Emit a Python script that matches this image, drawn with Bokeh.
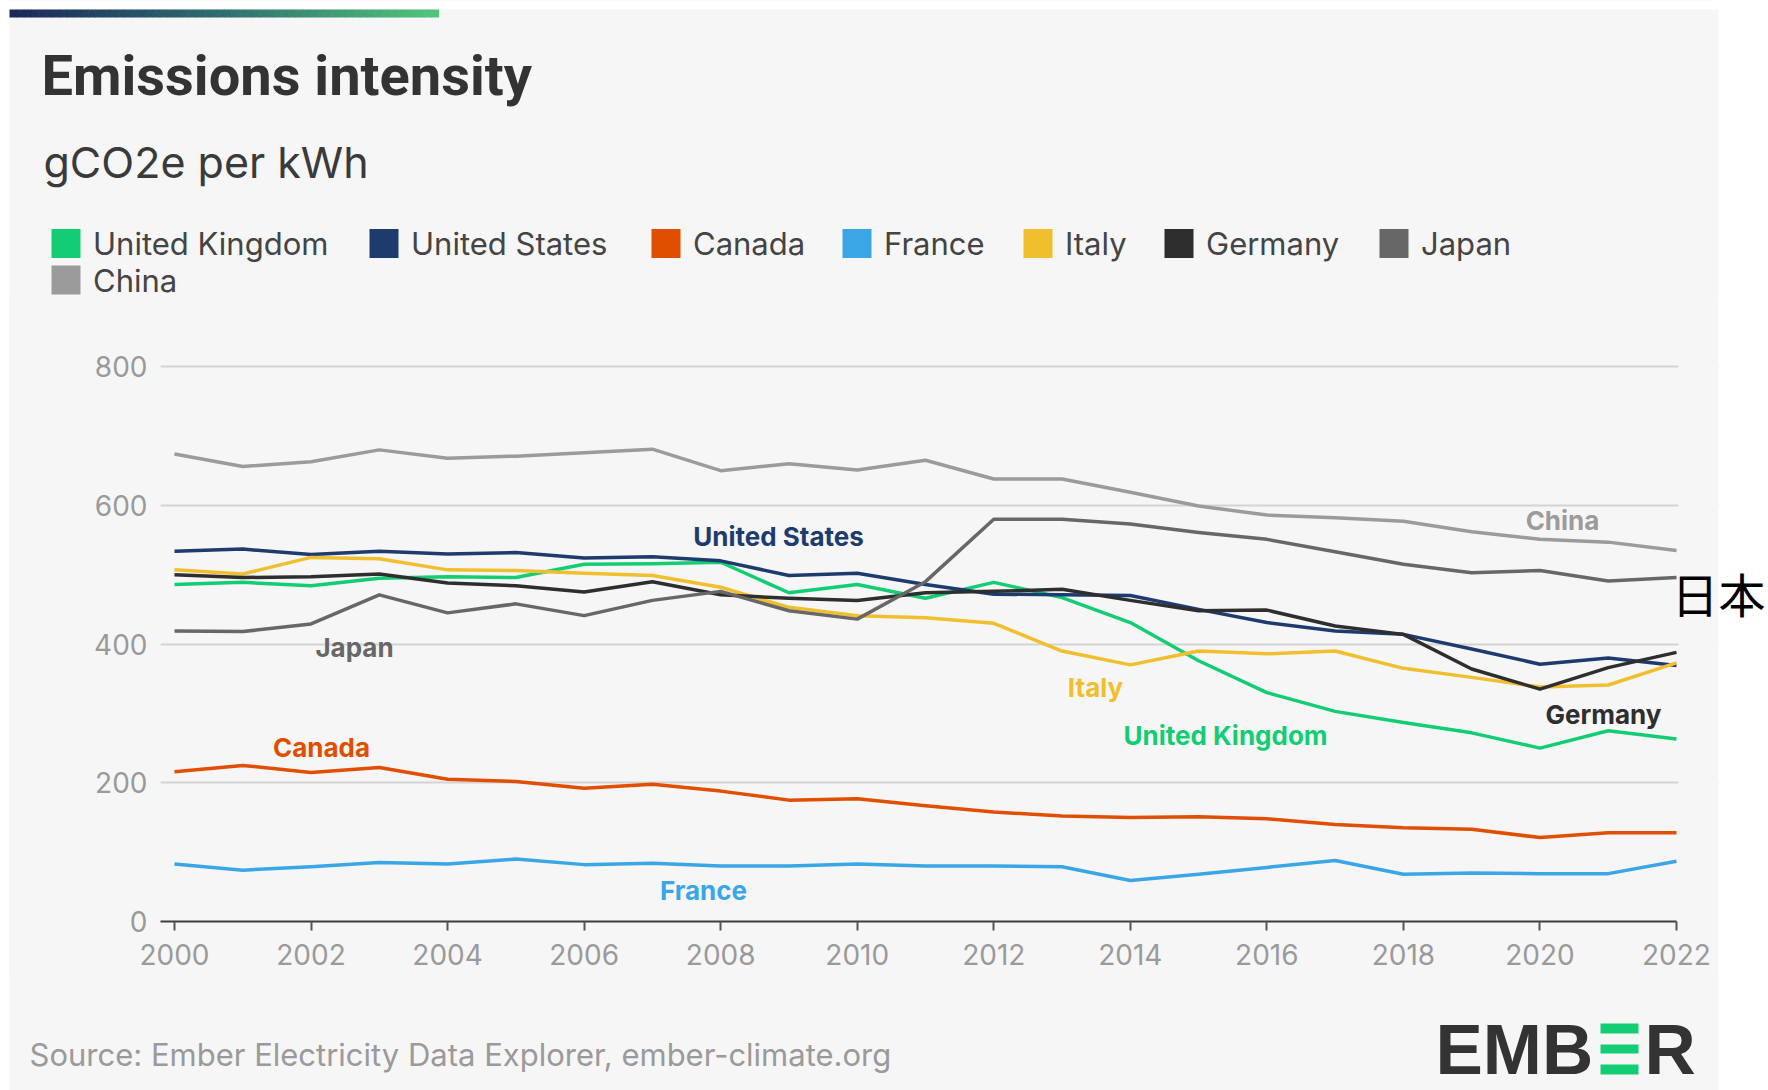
from bokeh.plotting import figure
from bokeh.layouts import column
from bokeh.models import Range1d, FixedTicker, Label, BoxAnnotation, ColumnDataSource
from bokeh.embed import file_html
from bokeh.resources import INLINE

# ---------------- data (gCO2e per kWh) ----------------
years = list(range(2000, 2023))
united_kingdom = [486, 489, 484, 495, 497, 496, 515, 516, 518, 474, 486, 466, 489, 467, 431, 376, 330, 303, 287, 272, 250, 275, 263]
united_states = [534, 537, 529, 534, 530, 532, 524, 526, 520, 499, 502, 486, 472, 471, 470, 450, 431, 419, 414, 393, 371, 380, 369]
canada = [216, 225, 215, 222, 205, 202, 192, 198, 188, 175, 177, 167, 158, 152, 150, 151, 148, 140, 135, 133, 121, 128, 128]
france = [83, 74, 79, 85, 83, 90, 82, 84, 80, 80, 83, 80, 80, 79, 59, 68, 78, 88, 68, 70, 69, 69, 87]
italy = [507, 501, 525, 523, 507, 506, 502, 499, 482, 453, 441, 438, 430, 390, 370, 390, 386, 390, 365, 352, 338, 341, 373]
germany = [500, 496, 497, 501, 488, 484, 475, 490, 471, 466, 463, 474, 476, 479, 463, 448, 449, 426, 414, 364, 335, 366, 388]
japan = [419, 418, 429, 471, 445, 458, 441, 463, 476, 448, 436, 490, 580, 580, 573, 561, 551, 533, 515, 503, 506, 491, 496]
china = [674, 656, 663, 680, 668, 671, 676, 681, 650, 660, 651, 665, 638, 638, 619, 599, 586, 582, 577, 562, 551, 547, 535]

series_names = ["United Kingdom", "United States", "Canada", "France", "Italy", "Germany", "Japan", "China"]
series_values = [united_kingdom, united_states, canada, france, italy, germany, japan, china]
series_colors = ["#13cd74", "#1e3b6e", "#e04e00", "#3aa6e6", "#f0bf2e", "#2e2e2e", "#676767", "#9b9b9b"]

y_ticks = [0, 200, 400, 600, 800]
x_ticks = list(range(2000, 2023, 2))

# ---------------- page geometry ----------------
W = 1768
PANEL = "#f6f6f6"
PANEL_L, PANEL_R, PANEL_T = 9, 1718, 9
HEAD_H, MAIN_H, FOOT_H = 300, 675, 115      # 300 + 675 + 115 = 1090
PAGE_BG = ("linear-gradient(to right, #ffffff 0px, #ffffff 9px, #f6f6f6 9px, "
           "#f6f6f6 1718px, #ffffff 1718px, #ffffff 100%)")


def box(fig, l, r, t, b, color):
    fig.add_layout(BoxAnnotation(left=l, right=r, top=t, bottom=b,
                                 fill_color=color, fill_alpha=1, line_color=None))


def plain_fig(h, y_top):
    f = figure(width=W, height=h, x_range=Range1d(0, W), y_range=Range1d(y_top + h, y_top),
               x_axis_type=None, y_axis_type=None, output_backend="svg",
               toolbar_location=None, min_border=0, frame_align=False)
    f.background_fill_color = "white"
    f.border_fill_color = "white"
    f.outline_line_color = None
    f.grid.visible = False
    return f


# ================= header =================
head = plain_fig(HEAD_H, 0)
box(head, PANEL_L, PANEL_R, PANEL_T, HEAD_H + 3, PANEL)


def lerp(c1, c2, t):
    a = [int(c1[i:i + 2], 16) for i in (1, 3, 5)]
    b = [int(c2[i:i + 2], 16) for i in (1, 3, 5)]
    return "#%02x%02x%02x" % tuple(int(round(a[k] + (b[k] - a[k]) * t)) for k in range(3))


nseg = 60
gx0, gx1 = 9, 438
for i in range(nseg):
    t = i / (nseg - 1)
    col = lerp("#1b2858", "#2f6f70", t * 2) if t < 0.5 else lerp("#2f6f70", "#50c47a", (t - 0.5) * 2)
    a = gx0 + (gx1 - gx0) * i / nseg
    b = gx0 + (gx1 - gx0) * (i + 1) / nseg + 0.6
    box(head, a, b, 9, 17, col)

head.add_layout(Label(x=41, y=75.5, text="Emissions intensity", text_font="Roboto",
                      text_font_style="bold", text_font_size="56px", text_color="#333333",
                      text_baseline="middle"))
head.add_layout(Label(x=43, y=161, text="gCO2e per kWh", text_font="Inter",
                      text_font_size="43px", text_color="#3a3a3a", text_baseline="middle"))

leg_sq_x = [51, 369, 651, 842, 1023, 1164, 1379, 51]
leg_row_y = [243, 243, 243, 243, 243, 243, 243, 279.5]
for name, col, sx, cy in zip(series_names, series_colors, leg_sq_x, leg_row_y):
    box(head, sx, sx + 29, cy - 14.5, cy + 14.5, col)
    head.add_layout(Label(x=sx + 41.5, y=cy, text=name, text_font="Inter", text_font_size="31px",
                          text_color="#444444", text_baseline="middle"))

# ================= main chart =================
FL, FT, FB = 160, HEAD_H, 921            # page pixels of the frame (frame runs to right edge)
SX = 1516 / 22.205                       # px per year
SY = 559 / 806                           # px per gCO2e
X0 = 1999.795
X1 = X0 + (W - FL) / SX
Y1 = (FB - FT) / SY


def dx(px):
    return X0 + (px - FL) / SX


def dy(py):
    return (FB - py) / SY


p = figure(width=W, height=MAIN_H, x_range=Range1d(X0, X1), y_range=Range1d(0, Y1),
           output_backend="svg", toolbar_location=None, frame_align=False,
           min_border_left=FL, min_border_right=0, min_border_top=0,
           min_border_bottom=HEAD_H + MAIN_H - FB,
           styles={"background": PAGE_BG})
p.border_fill_color = None
p.background_fill_color = None
p.outline_line_color = None

src = ColumnDataSource(dict(year=years, **{n: v for n, v in zip(series_names, series_values)}))
for name, col in zip(series_names, series_colors):
    p.line("year", name, source=src, line_width=3.5, line_color=col, line_join="round")

p.xgrid.visible = False
p.ygrid.grid_line_color = "#d3d3d3"
p.ygrid.grid_line_width = 2
p.xaxis.ticker = FixedTicker(ticks=x_ticks)
p.yaxis.ticker = FixedTicker(ticks=y_ticks)
p.xaxis.bounds = (X0, 2022)

p.xaxis.axis_line_color = "#3c3c3c"
p.xaxis.axis_line_width = 2
p.xaxis.major_tick_line_color = "#555555"
p.xaxis.major_tick_line_width = 2
p.xaxis.major_tick_out = 9
p.xaxis.major_tick_in = 0
p.xaxis.minor_tick_line_color = None
p.xaxis.major_label_text_font = "Inter"
p.xaxis.major_label_text_font_size = "28px"
p.xaxis.major_label_text_color = "#9a9a9a"
p.xaxis.major_label_standoff = 13

p.yaxis.axis_line_color = None
p.yaxis.major_tick_line_color = None
p.yaxis.minor_tick_line_color = None
p.yaxis.major_tick_out = 0
p.yaxis.major_tick_in = 0
p.yaxis.major_label_text_font = "Inter"
p.yaxis.major_label_text_font_size = "28px"
p.yaxis.major_label_text_color = "#9a9a9a"
p.yaxis.major_label_standoff = 13

# hide grid beyond the last year, white margin on the right
box(p, dx(1678), dx(1718), dy(FT), dy(FB), PANEL)
box(p, dx(1718), dx(W), dy(FT), dy(FB), "white")

label_pos = {
    "United States": (778, 536),
    "Japan": (354, 647),
    "China": (1562, 520),
    "Italy": (1095, 687),
    "United Kingdom": (1225, 735),
    "Germany": (1603, 714),
    "Canada": (321, 747),
    "France": (703, 890),
}
for name, col in zip(series_names, series_colors):
    px, py = label_pos[name]
    p.add_layout(Label(x=dx(px), y=dy(py), text=name, text_align="center", text_baseline="middle",
                       text_font="Inter", text_font_style="bold", text_font_size="26px",
                       text_color=col))

p.add_layout(Label(x=dx(1671), y=dy(592), text="日本", text_font="Noto Sans CJK JP",
                   text_font_size="47px", text_color="#000000", text_baseline="middle"))

# ================= footer =================
F0 = HEAD_H + MAIN_H
foot = plain_fig(FOOT_H, F0)
box(foot, PANEL_L, PANEL_R, F0 - 3, F0 + FOOT_H + 3, PANEL)
foot.add_layout(Label(x=29, y=1054, text="Source: Ember Electricity Data Explorer, ember-climate.org",
                      text_font="Inter", text_font_size="31px", text_color="#9a9a9a",
                      text_baseline="middle"))
foot.add_layout(Label(x=1435, y=1049, text="EMB", text_font="Liberation Sans", text_font_style="bold",
                      text_font_size="71px", text_color="#333333", text_baseline="middle"))
for t, b in [(1023, 1033), (1044, 1053), (1064, 1074)]:
    box(foot, 1600, 1638, t, b, "#13cd74")
foot.add_layout(Label(x=1644, y=1049, text="R", text_font="Liberation Sans", text_font_style="bold",
                      text_font_size="71px", text_color="#333333", text_baseline="middle"))

layout = column(head, p, foot, spacing=0, styles={"background": PAGE_BG})
open("out.html", "w").write(file_html(layout, INLINE))
